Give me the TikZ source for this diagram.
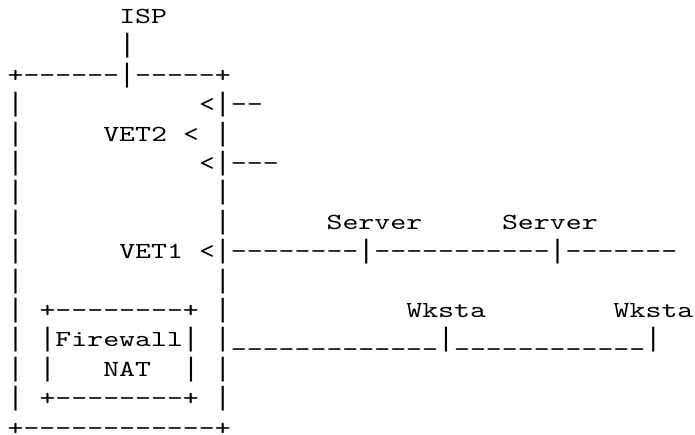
\documentclass[tikz,border=0pt]{standalone}
\usepackage{fontspec}
\setmonofont[FakeStretch=1.32]{lmmono10-regular.otf}
\newfontfamily\barfont{Liberation Mono}
\newcommand\asciibar{{\barfont\fontsize{26.6pt}{29.4pt}\selectfont|}}
\tikzset{
  ascii/.style={
    font=\ttfamily\fontsize{23pt}{29.4pt}\selectfont,
    anchor=base west,
    inner sep=0pt,
    outer sep=0pt
  }
}

\begin{document}
\begin{tikzpicture}[x=15.95pt, y=-29.4pt]
    \useasboundingbox (-0.4765,-0.80) rectangle (43.097,13.962);

    \node [ascii] (isp) at (7,0) {ISP};

    \node [ascii] (isplink) at (7,1) {\asciibar};

    \node [ascii] (boxtop) at (0,2) {+------\asciibar-----+};

    % walls of the box
    \foreach \r in {3,...,13} {
      \node [ascii] (lwall\r) at (0,\r) {\asciibar};
      \node [ascii] (rwall\r) at (13,\r) {\asciibar};
    }

    \node [ascii] (vettwoa) at (12,3) {<};
    \node [ascii] (linka) at (14,3) {--};

    \node [ascii] (vettwo) at (6,4) {VET2};
    \node [ascii] (vettwob) at (11,4) {<};

    \node [ascii] (vettwoc) at (12,5) {<};
    \node [ascii] (linkc) at (14,5) {---};

    \node [ascii] (servera) at (20,7) {Server};
    \node [ascii] (serverb) at (31,7) {Server};

    \node [ascii] (vetone) at (7,8) {VET1};
    \node [ascii] (vetonein) at (12,8) {<};
    \node [ascii] (serverlan) at (14,8)
      {--------\asciibar-----------\asciibar-------};

    \node [ascii] (fwtop) at (2,10) {+--------+};
    \node [ascii] (wkstaa) at (25,10) {Wksta};
    \node [ascii] (wkstab) at (38,10) {Wksta};

    \node [ascii] (firewall) at (2,11) {\asciibar Firewall\asciibar};
    \node [ascii] (wkstalan) at (14,11)
      {\_\_\_\_\_\_\_\_\_\_\_\_\_\asciibar\_\_\_\_\_\_\_\_\_\_\_\_\asciibar};

    \node [ascii] (natl) at (2,12) {\asciibar};
    \node [ascii] (nat) at (6,12) {NAT};
    \node [ascii] (natr) at (11,12) {\asciibar};

    \node [ascii] (fwbot) at (2,13) {+--------+};

    \node [ascii] (boxbot) at (0,14) {+------------+};
  \end{tikzpicture}
\end{document}
